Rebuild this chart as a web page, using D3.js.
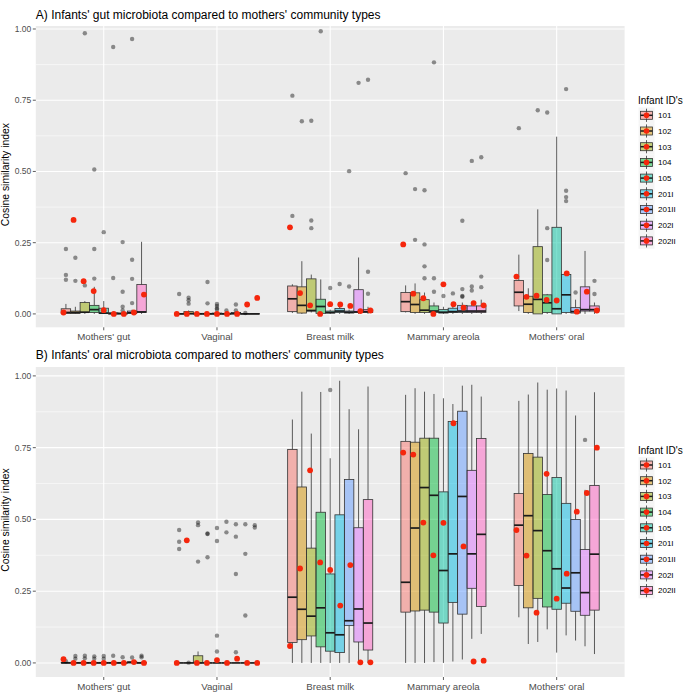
<!DOCTYPE html>
<html><head><meta charset="utf-8">
<script src="https://cdn.jsdelivr.net/npm/d3@7"></script>
<style>body{margin:0;background:#fff} text{font-family:"Liberation Sans",Arial,sans-serif}</style>
</head><body><svg id="c" width="685" height="692"></svg>
<script>
// ---------- data ----------
const categories = ["Mothers' gut", "Vaginal", "Breast milk", "Mammary areola", "Mothers' oral"];
const infants = ["101", "102", "103", "104", "105", "201I", "201II", "202I", "202II"];
const infantColors = ["#F8766D", "#D39200", "#93AA00", "#00BA38", "#00C19F", "#00B9E3", "#619CFF", "#DB72FB", "#FF61C3"];
const yTicks = [0, 0.25, 0.5, 0.75, 1];
const yTickLabels = ["0.00", "0.25", "0.50", "0.75", "1.00"];
const titles = ["A) Infants' gut microbiota compared to mothers' community types",
                "B) Infants' oral microbiota compared to mothers' community types"];

// box stats [lower whisker, q1, median, q3, upper whisker] per category, per infant
const gutBoxStats = [
  [[0,0.002,0.005,0.018,0.035],[0,0.002,0.005,0.01,0.025],[0,0.005,0.006,0.04,0.045],[0,0.005,0.015,0.03,0.095],[0,0.001,0.003,0.02,0.045],[0,0,0.001,0.004,0.008],[0,0,0.001,0.003,0.006],[0,0.002,0.004,0.01,0.015],[0,0.005,0.007,0.103,0.253]],
  [[0,0,0,0.001,0.002],[0,0,0.001,0.008,0.012],[0,0,0,0.002,0.004],[0,0,0,0.002,0.004],[0,0,0,0.003,0.006],[0,0,0,0.002,0.004],[0,0,0.001,0.005,0.008],[0,0,0,0.001,0.002],[0,0,0,0.001,0.002]],
  [[0.003,0.008,0.053,0.098,0.104],[0,0.003,0.03,0.095,0.185],[0.005,0.01,0.012,0.123,0.138],[0,0.002,0.026,0.0515,0.121],[0,0.003,0.005,0.01,0.015],[0,0.005,0.01,0.019,0.03],[0,0.003,0.006,0.01,0.015],[0,0.005,0.007,0.085,0.198],[0,0.005,0.008,0.015,0.025]],
  [[0.005,0.008,0.043,0.075,0.1],[0,0.005,0.033,0.074,0.107],[0,0.005,0.013,0.05,0.075],[0,0.005,0.01,0.028,0.04],[0,0.003,0.006,0.015,0.025],[0,0.005,0.008,0.02,0.03],[0,0.005,0.01,0.03,0.04],[0,0.005,0.01,0.028,0.04],[0,0.005,0.01,0.028,0.05]],
  [[0.01,0.028,0.076,0.117,0.208],[0,0.005,0.034,0.062,0.09],[0,0,0.051,0.236,0.367],[0,0.005,0.039,0.067,0.07],[0,0,0.018,0.304,0.622],[0,0.005,0.067,0.138,0.142],[0,0.003,0.008,0.022,0.05],[0,0.01,0.015,0.095,0.221],[0,0.01,0.015,0.028,0.04]]
];
const gutOutliers = [
  [[0.228,0.137,0.12],[0.197,0.116],[0.985,0.1],[0.507,0.228,0.124],[0.287],[0.937,0.126],[0.252,0.078,0.025,0.012],[0.965,0.19,0.123,0.038],[]],
  [[0.07],[0.057,0.048,0.036],[],[0.112,0.037],[0.035,0.028,0.02,0.015],[0.012],[0.033,0.012],[0.003],[]],
  [[0.766,0.344],[0.676],[0.678,0.328,0.301],[0.992],[0.091],[0.105],[0.501,0.096],[0.811],[0.822,0.148,0.071]],
  [[0.494],[0.438,0.26],[0.434,0.244,0.167,0.125],[0.883,0.125,0.078],[0.063],[0.072],[0.327,0.087,0.063,0.06],[0.537,0.096,0.082],[0.55,0.131,0.094]],
  [[0.652],[],[0.715],[0.707,0.301,0.189],[],[0.789,0.432,0.41,0.396],[0.075],[],[0.116,0.07]]
];
const gutInfantValues = [
  [0.005,0.33,0.115,0.08,0.013,0,0,0.005,0.068],
  [0,0,0,0,0,0,0,0.033,0.056],
  [0.304,0.073,0.03,0,0.034,0.033,0.028,0.01,0.012],
  [0.244,0.071,0.055,0,0.104,0.034,0.022,0.038,0.03],
  [0.131,0.06,0.064,0.049,0.047,0.142,0.008,0.078,0.012]
];

const oralBoxStats = [
  [[0,0,0,0.002,0.004],[0,0,0,0.002,0.004],[0,0,0,0.002,0.004],[0,0,0,0.002,0.004],[0,0,0,0.002,0.004],[0,0,0,0.002,0.004],[0,0,0,0.002,0.004],[0,0,0.002,0.004,0.006],[0,0,0,0.002,0.004]],
  [[0,0,0,0,0],[0,0,0,0,0],[0,0,0,0.025,0.04],[0,0,0,0,0],[0,0,0,0,0],[0,0,0,0,0],[0,0,0,0,0],[0,0,0,0,0],[0,0,0,0,0]],
  [[0,0.071,0.229,0.744,0.848],[0,0.081,0.187,0.613,0.945],[0,0.094,0.163,0.4,0.799],[0,0.056,0.192,0.525,0.944],[0,0.041,0.105,0.31,0.713],[0,0.036,0.098,0.516,0.983],[0,0.13,0.147,0.639,0.884],[0,0.073,0.188,0.471,0.814],[0,0.045,0.139,0.569,0.963]],
  [[0,0.177,0.281,0.772,0.934],[0,0.181,0.47,0.769,0.957],[0,0.184,0.611,0.783,0.945],[0.003,0.177,0.584,0.783,0.937],[0,0.139,0.322,0.596,0.922],[0.005,0.211,0.38,0.841,0.902],[0.012,0.17,0.58,0.877,0.966],[0.084,0.26,0.38,0.671,0.969],[0.101,0.197,0.448,0.782,0.928]],
  [[0.159,0.27,0.48,0.59,0.913],[0.066,0.192,0.513,0.73,0.935],[0.073,0.225,0.461,0.717,0.977],[0.117,0.195,0.391,0.587,0.952],[0.036,0.187,0.328,0.646,0.956],[0.096,0.208,0.261,0.556,0.949],[0.078,0.18,0.314,0.5,0.862],[0.058,0.166,0.245,0.395,0.603],[0.031,0.184,0.379,0.618,0.943]]
];
const oralOutliers = [
  [[0.006],[0.024,0.015],[0.025,0.016],[0.023,0.015],[0.024,0.015],[0.025],[0.02],[0.019],[0.025,0.02]],
  [[0.463,0.422,0.397],[0.001],[0.489,0.48,0.353],[0.451,0.449,0.368],[0.47,0.425,0.095,0.04],[0.492,0.455],[0.483,0.44,0.31,0.037],[0.483,0.38,0.165],[0.48,0.472]],
  [[],[],[],[],[0.951],[],[],[],[]],
  [[],[],[],[],[],[],[],[],[]],
  [[],[],[],[],[],[],[],[0.777],[]]
];
const oralInfantValues = [
  [0.013,0,0,0,0,0,0,0.003,0],
  [0,0.427,0,0,0.01,0,0.015,0,0],
  [0.059,0.329,0.671,0.35,0.324,0.2,0.341,0.002,0.002],
  [0.733,0.726,0.489,0.375,0.488,0.835,0.406,0.005,0.008],
  [0.463,0.374,0.175,0.659,0.224,0.311,0.527,0.592,0.75]
];

// ---------- layout ----------
const svg = d3.select("#c");
const panelLeft = 35.8, panelRight = 624.6;
const panels = [
  {title: titles[0], stats: gutBoxStats, outl: gutOutliers, vals: gutInfantValues,
   top: 26, bottom: 327.3, domain: [-0.047, 1.0105], titleY: 18.5, legendY: 115.3},
  {title: titles[1], stats: oralBoxStats, outl: oralOutliers, vals: oralInfantValues,
   top: 367, bottom: 677, domain: [-0.049, 1.031], titleY: 358.8, legendY: 465}
];
const x = d3.scalePoint().domain(categories).range([panelLeft, panelRight]).padding(0.6);
const step = x.step();
const boxStep = step * 0.0835, dotStep = step * 0.0888, boxW = boxStep;
const red = "#F5260C";

panels.forEach(p => {
  const y = d3.scaleLinear().domain(p.domain).range([p.bottom, p.top]);
  const g = svg.append("g");
  g.append("rect").attr("x", panelLeft).attr("y", p.top).attr("width", panelRight - panelLeft)
    .attr("height", p.bottom - p.top).attr("fill", "#EBEBEB");
  const minor = d3.range(0.125, 1, 0.25);
  g.selectAll(".mn").data(minor).join("line").attr("x1", panelLeft).attr("x2", panelRight)
    .attr("y1", d => y(d)).attr("y2", d => y(d)).attr("stroke", "#fff").attr("stroke-width", 0.55);
  g.selectAll(".mj").data(yTicks).join("line").attr("x1", panelLeft).attr("x2", panelRight)
    .attr("y1", d => y(d)).attr("y2", d => y(d)).attr("stroke", "#fff").attr("stroke-width", 1.1);
  g.selectAll(".vx").data(categories).join("line").attr("y1", p.top).attr("y2", p.bottom)
    .attr("x1", d => x(d)).attr("x2", d => x(d)).attr("stroke", "#fff").attr("stroke-width", 1.1);

  categories.forEach((c, ci) => {
    infants.forEach((inf, ii) => {
      const s = p.stats[ci][ii];
      const cx = x(c) + (ii - 4) * boxStep;
      const bg = g.append("g");
      bg.append("line").attr("x1", cx).attr("x2", cx).attr("y1", y(s[0])).attr("y2", y(s[1]))
        .attr("stroke", "#333").attr("stroke-width", 0.8);
      bg.append("line").attr("x1", cx).attr("x2", cx).attr("y1", y(s[3])).attr("y2", y(s[4]))
        .attr("stroke", "#333").attr("stroke-width", 0.8);
      bg.append("rect").attr("x", cx - boxW / 2).attr("width", boxW)
        .attr("y", y(s[3])).attr("height", Math.max(0, y(s[1]) - y(s[3])))
        .attr("fill", d3.color(infantColors[ii]).copy({opacity: 0.5}).formatRgb())
        .attr("stroke", "#333").attr("stroke-width", 0.8);
      bg.append("line").attr("x1", cx - boxW / 2).attr("x2", cx + boxW / 2)
        .attr("y1", y(s[2])).attr("y2", y(s[2])).attr("stroke", "#1a1a1a").attr("stroke-width", 1.7);
      bg.selectAll("circle").data(p.outl[ci][ii]).join("circle")
        .attr("cx", cx).attr("cy", d => y(d)).attr("r", 2.2)
        .attr("fill", "#000").attr("fill-opacity", 0.42);
    });
  });
  categories.forEach((c, ci) => {
    g.selectAll(null).data(p.vals[ci]).join("circle")
      .attr("cx", (d, ii) => x(c) + (ii - 4) * dotStep).attr("cy", d => y(d))
      .attr("r", 2.9).attr("fill", red);
  });

  g.selectAll(".yt").data(yTicks).join("line").attr("x1", panelLeft - 3).attr("x2", panelLeft)
    .attr("y1", d => y(d)).attr("y2", d => y(d)).attr("stroke", "#333").attr("stroke-width", 0.8);
  g.selectAll(".yl").data(yTicks).join("text").attr("x", panelLeft - 4.5).attr("y", d => y(d) + 3)
    .attr("text-anchor", "end").attr("font-size", "8.5px").attr("fill", "#4D4D4D")
    .text((d, i) => yTickLabels[i]);
  g.selectAll(".xt").data(categories).join("line").attr("x1", d => x(d)).attr("x2", d => x(d))
    .attr("y1", p.bottom).attr("y2", p.bottom + 3).attr("stroke", "#333").attr("stroke-width", 0.8);
  g.selectAll(".xl").data(categories).join("text").attr("x", d => x(d)).attr("y", p.bottom + 12.8)
    .attr("text-anchor", "middle").attr("font-size", "9.7px").attr("fill", "#4D4D4D").text(d => d);
  g.append("text").attr("transform", `translate(9.3,${(p.top + p.bottom) / 2 - 2}) rotate(-90)`)
    .attr("text-anchor", "middle").attr("font-size", "10.4px").attr("fill", "#000")
    .text("Cosine similarity index");
  g.append("text").attr("x", panelLeft).attr("y", p.titleY).attr("font-size", "12px")
    .attr("fill", "#000").text(p.title);

  const lg = g.append("g");
  const kh = 15.7, kx = 646.5;
  lg.append("text").attr("x", 638).attr("y", p.legendY - 11.5).attr("font-size", "10px")
    .attr("fill", "#000").text("Infant ID's");
  infants.forEach((inf, ii) => {
    const cy = p.legendY + ii * kh;
    lg.append("rect").attr("x", kx - 8).attr("y", cy - kh / 2).attr("width", 16).attr("height", kh)
      .attr("fill", "#F5F5F5");
    lg.append("line").attr("x1", kx).attr("x2", kx).attr("y1", cy - kh * 0.42).attr("y2", cy + kh * 0.42)
      .attr("stroke", "#333").attr("stroke-width", 0.8);
    lg.append("rect").attr("x", kx - 6).attr("y", cy - 4).attr("width", 12).attr("height", 8)
      .attr("fill", d3.color(infantColors[ii]).copy({opacity: 0.5}).formatRgb())
      .attr("stroke", "#333").attr("stroke-width", 0.8);
    lg.append("line").attr("x1", kx - 6).attr("x2", kx + 6).attr("y1", cy).attr("y2", cy)
      .attr("stroke", "#1a1a1a").attr("stroke-width", 1.5);
    lg.append("circle").attr("cx", kx).attr("cy", cy).attr("r", 2.8).attr("fill", red);
    lg.append("text").attr("x", 658).attr("y", cy + 2.8).attr("font-size", "8px")
      .attr("fill", "#000").text(inf);
  });
});
</script></body></html>
